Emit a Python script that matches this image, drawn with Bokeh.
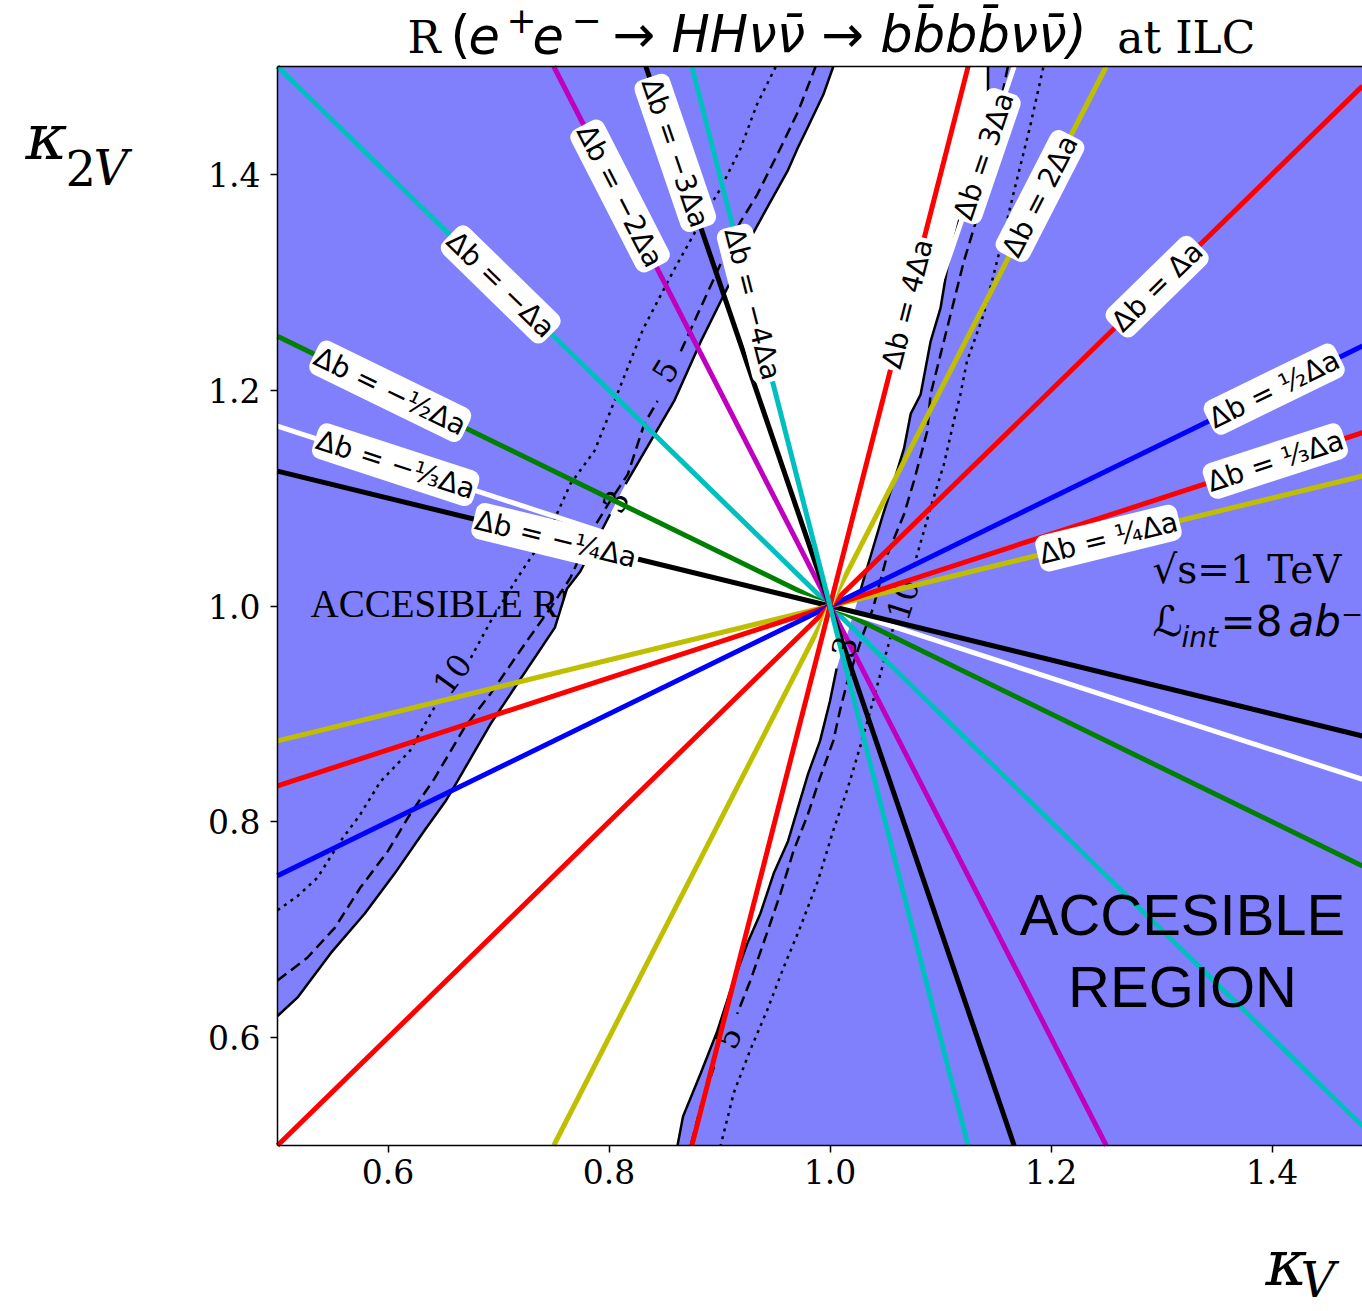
import math
from bokeh.plotting import figure
from bokeh.models import Range1d, FixedTicker, Label, LinearAxis
from bokeh.embed import file_html
from bokeh.resources import INLINE
from bokeh.core.properties import value

nan = float("nan")

# ---------------- data ----------------
x_ticks = [0.6, 0.8, 1.0, 1.2, 1.4]
x_tick_labels = ["0.6", "0.8", "1.0", "1.2", "1.4"]
y_ticks = [0.6, 0.8, 1.0, 1.2, 1.4]
y_tick_labels = ["0.6", "0.8", "1.0", "1.2", "1.4"]

# straight lines  Δb = k Δa  through (κV, κ2V) = (1, 1)
slopes = [-1, -1/2, -1/3, -1/4, 1/4, 1/3, 1/2, 1, 2, 3, 4, -2, -3, -4]
line_colors = ["#00bfbf", "#008000", "#ffffff", "#000000", "#bfbf00", "#ff0000", "#0000ff",
               "#ff0000", "#bfbf00", "#ffffff", "#ff0000", "#bf00bf", "#000000", "#00bfbf"]
line_labels = ["Δb = −Δa", "Δb = −½Δa", "Δb = −⅓Δa", "Δb = −¼Δa", "Δb = ¼Δa", "Δb = ⅓Δa",
               "Δb = ½Δa", "Δb = Δa", "Δb = 2Δa", "Δb = 3Δa", "Δb = 4Δa", "Δb = −2Δa",
               "Δb = −3Δa", "Δb = −4Δa"]
label_kv = [0.702, 0.602, 0.607, 0.752, 1.252, 1.403, 1.402, 1.296, 1.190, 1.139, 1.070,
            0.810, 0.860, 0.930]

# contour R = 3 (solid), left and right branches
r3_left_kv = [0.500, 0.518, 0.548, 0.579, 0.606, 0.633, 0.652, 0.663, 0.693, 0.717, 0.751, 0.762,
              0.774, 0.801, nan, 0.815, 0.859, 0.883, 0.913, 0.928, 0.943, 0.962, 0.971, 0.980,
              0.994, 1.003]
r3_left_k2v = [0.620, 0.637, 0.678, 0.715, 0.752, 0.792, 0.819, 0.838, 0.891, 0.928, 0.980, 1.016,
               1.032, 1.085, nan, 1.113, 1.190, 1.245, 1.307, 1.341, 1.369, 1.404, 1.425, 1.444,
               1.474, 1.500]
r3_right_kv = [1.143, 1.143, 1.115, 1.106, 1.100, 1.091, 1.082, 1.073, 1.067, 1.058, 1.048, 1.039,
               1.030, 1.025, nan, 1.006, 1.000, 0.991, 0.980, 0.962, 0.949, 0.937, 0.925, 0.910,
               0.898, 0.883, 0.867, 0.862]
r3_right_k2v = [1.500, 1.461, 1.350, 1.313, 1.276, 1.245, 1.196, 1.178, 1.146, 1.116, 1.085, 1.054,
                1.023, 1.005, nan, 0.942, 0.912, 0.875, 0.844, 0.782, 0.752, 0.715, 0.687, 0.644,
                0.606, 0.567, 0.527, 0.500]

# contour R = 5 (dashed)
r5_left_kv = [0.500, 0.527, 0.552, 0.575, 0.600, 0.620, 0.642, 0.669, 0.693, 0.726, 0.747, 0.765,
              0.783, 0.799, 0.817, 0.832, 0.844, nan, 0.865, 0.880, 0.901, 0.919, 0.934, 0.955,
              0.971, 0.987]
r5_left_k2v = [0.653, 0.674, 0.702, 0.739, 0.773, 0.807, 0.840, 0.887, 0.919, 0.968, 0.998, 1.026,
               1.067, 1.094, 1.122, 1.169, 1.190, nan, 1.236, 1.270, 1.317, 1.356, 1.381, 1.424,
               1.458, 1.500]
r5_right_kv = [1.161, 1.132, 1.121, 1.112, 1.100, 1.091, 1.088, 1.076, 1.067, 1.052, 1.039, 1.030,
               1.016, 1.009, 1.003, 0.991, 0.980, 0.967, 0.955, 0.943, 0.928, 0.916, nan, 0.895,
               0.883, 0.874]
r5_right_k2v = [1.500, 1.356, 1.319, 1.282, 1.233, 1.196, 1.162, 1.116, 1.085, 1.048, 0.998, 0.974,
                0.931, 0.903, 0.875, 0.841, 0.807, 0.773, 0.733, 0.697, 0.653, 0.622, nan, 0.573,
                0.536, 0.500]

# contour R = 10 (dotted)
r10_left_kv = [0.500, 0.518, 0.536, 0.557, 0.575, 0.593, 0.620, 0.642, nan, 0.675, 0.693, 0.717,
               0.747, 0.765, 0.787, 0.805, 0.831, 0.858, 0.883, 0.901, 0.919, 0.934, 0.951]
r10_left_k2v = [0.718, 0.731, 0.748, 0.782, 0.807, 0.837, 0.866, 0.906, nan, 0.952, 0.986, 1.026,
                1.072, 1.113, 1.144, 1.190, 1.257, 1.310, 1.356, 1.387, 1.424, 1.465, 1.500]
r10_right_kv = [1.193, 1.181, 1.166, 1.154, 1.139, 1.124, 1.118, 1.112, 1.103, 1.091, 1.079, 1.075,
                nan, 1.057, 1.052, 1.039, 1.028, 1.016, 1.003, 0.989, 0.973, 0.958, 0.943, 0.928,
                0.913, 0.901]
r10_right_k2v = [1.499, 1.444, 1.382, 1.331, 1.270, 1.227, 1.196, 1.171, 1.131, 1.091, 1.048, 1.034,
                 nan, 0.979, 0.961, 0.912, 0.872, 0.831, 0.792, 0.745, 0.702, 0.665, 0.625, 0.589,
                 0.549, 0.500]

contour_label_text = ["3", "5", "10", "10", "5"]
contour_label_kv = [0.806, 0.851, 0.658, 1.066, 0.908]
contour_label_k2v = [1.097, 1.218, 0.937, 1.006, 0.600]
contour_label_deg = [63, 58, 54, 72, 66]
centre_label_text = ["3"]
centre_label_kv = [1.013]
centre_label_k2v = [0.962]
centre_label_deg = [75]

# ---------------- layout ----------------
W, H = 1362, 1311
PX_L, PX_T, PX_R, PX_B = 277, 66, 1362, 1145          # plot box edges on the canvas
XB = (0.5, 0.5 + (PX_R - PX_L) * 0.2 / 221.0)          # visible κV extent of the box
YB = (0.5, 1.5)
SX = (PX_R - PX_L) / (XB[1] - XB[0])
SY = (PX_B - PX_T) / (YB[1] - YB[0])
XR = (XB[0] - PX_L / SX, XB[0] + (W - PX_L) / SX)
YR = (YB[1] - (H - PX_T) / SY, YB[1] + PX_T / SY)
BASE_FIX = 0.37     # em offset between requested and drawn alphabetic baseline


def px2x(px):
    return XB[0] + (px - PX_L) / SX


def py2y(py):
    return YB[1] - (py - PX_T) / SY


def base_y(py, size):
    return py2y(py - BASE_FIX * size)


BLUE = "#8080fc"

p = figure(width=W, height=H, x_range=Range1d(*XR), y_range=Range1d(*YR),
           output_backend="svg", toolbar_location=None, title=None,
           min_border_left=0, min_border_right=0, min_border_top=0, min_border_bottom=0)
p.background_fill_color = "white"
p.border_fill_color = "white"
p.outline_line_color = None
p.xgrid.visible = False
p.ygrid.visible = False

for ax, ticks, labs, stand, loc, bnd in ((p.xaxis[0], x_ticks, x_tick_labels, 6, YB[0], XB),
                                         (p.yaxis[0], y_ticks, y_tick_labels, 10, XB[0], YB)):
    ax.fixed_location = loc
    ax.bounds = bnd
    ax.ticker = FixedTicker(ticks=ticks)
    ax.major_label_overrides = {t: l for t, l in zip(ticks, labs)}
    ax.major_label_text_font = "DejaVu Serif"
    ax.major_label_text_font_size = "33px"
    ax.major_label_text_color = "black"
    ax.major_tick_out = 7
    ax.major_tick_in = 0
    ax.minor_tick_line_color = None
    ax.major_tick_line_width = 1.5
    ax.axis_line_width = 1.5
    ax.axis_line_color = "black"
    ax.major_tick_line_color = "black"
    ax.major_label_standoff = stand

# top spine: an axis without ticks or labels
top = LinearAxis(fixed_location=YB[1], bounds=XB, ticker=FixedTicker(ticks=[]),
                 major_tick_line_color=None, minor_tick_line_color=None, major_tick_out=0,
                 major_tick_in=0, axis_line_width=1.5, axis_line_color="black")
p.add_layout(top, "above")

# accessible (R >= 3) background of the plot box
p.quad(left=[XB[0]], right=[XB[1]], bottom=[YB[0]], top=[YB[1]], fill_color=BLUE, line_color=None)

# left "ACCESIBLE REGION" (partly hidden by the non-accessible white band)
p.text(x=[px2x(310)], y=[base_y(617, 39)], text=["ACCESIBLE REGION"],
       text_font=value("Liberation Serif"), text_font_size="39px", text_baseline="alphabetic",
       text_align="left", text_color="black")


def clean(a):
    return [v for v in a if v == v]


# white (R < 3) band
band_x = clean(r3_left_kv) + clean(r3_right_kv) + [XB[0]]
band_y = clean(r3_left_k2v) + clean(r3_right_k2v) + [YB[0]]
p.patch(band_x, band_y, fill_color="white", line_color=None)

# contour lines
for xs, ys, dash in ((r3_left_kv, r3_left_k2v, "solid"), (r3_right_kv, r3_right_k2v, "solid"),
                     (r5_left_kv, r5_left_k2v, "11 6"), (r5_right_kv, r5_right_k2v, "11 6"),
                     (r10_left_kv, r10_left_k2v, "3 5"), (r10_right_kv, r10_right_k2v, "3 5")):
    p.line(xs, ys, line_color="black", line_width=2.5, line_dash=dash)

p.text(x=contour_label_kv, y=contour_label_k2v, text=contour_label_text,
       angle=[math.radians(a) for a in contour_label_deg],
       text_font=value("DejaVu Serif"), text_font_size="32px", text_align="center",
       text_baseline="middle", text_color="black")


# straight lines, clipped to the plot box
def clipped(k):
    xa, xb = 1 + (YB[0] - 1) / k, 1 + (YB[1] - 1) / k
    lo, hi = max(XB[0], min(xa, xb)), min(XB[1], max(xa, xb))
    return [lo, hi], [1 + k * (lo - 1), 1 + k * (hi - 1)]


for k, c in zip(slopes, line_colors):
    xs, ys = clipped(k)
    p.line(xs, ys, line_color=c, line_width=5)

p.text(x=centre_label_kv, y=centre_label_k2v, text=centre_label_text,
       angle=[math.radians(a) for a in centre_label_deg],
       text_font=value("DejaVu Serif"), text_font_size="32px", text_align="center",
       text_baseline="middle", text_color="black")

# line labels
lab_y = [1 + k * (x - 1) for k, x in zip(slopes, label_kv)]
lab_ang = [math.atan(k * SY / SX) for k in slopes]
p.text(x=label_kv, y=lab_y, text=line_labels, angle=lab_ang,
       text_font=value("DejaVu Sans"), text_font_size="28px", text_align="center",
       text_baseline="middle", text_color="black",
       background_fill_color="white", padding=2, border_radius=9)

# right "ACCESIBLE REGION"
p.text(x=[px2x(1182), px2x(1182)], y=[base_y(935, 58), base_y(1007, 58)],
       text=["ACCESIBLE", "REGION"],
       text_font=value("Liberation Sans"), text_font_size="58px", text_align="center",
       text_baseline="alphabetic", text_color="black")


def lab(txt, px, py, font, size, style="normal", align="left"):
    p.add_layout(Label(x=px2x(px), y=base_y(py, size), text=txt, text_font=font,
                       text_font_size=f"{size}px", text_font_style=style, text_align=align,
                       text_baseline="alphabetic", text_color="black"))


# energy / luminosity
lab("√s=1 TeV", 1152, 583, "DejaVu Serif", 39)
lab("ℒ", 1152, 637, "DejaVu Sans", 42, "italic")
lab("int", 1181, 647, "DejaVu Sans", 28, "italic")
lab("=8", 1220, 637, "DejaVu Sans", 42)
lab("ab⁻¹", 1288, 637, "DejaVu Sans", 42, "italic")

# title
lab("R", 407, 53, "DejaVu Serif", 44)
lab("(", 450, 53, "DejaVu Sans", 51)
lab("e", 468, 53, "DejaVu Sans", 51, "italic")
lab("+", 506, 33, "DejaVu Sans", 36)
lab("e", 532, 53, "DejaVu Sans", 51, "italic")
lab("−", 571, 33, "DejaVu Sans", 36)
lab("→ HHνν\u0304 → bb\u0304bb\u0304νν\u0304)", 612, 53, "DejaVu Sans", 51, "italic")
lab("at ILC", 1255, 53, "DejaVu Serif", 44, align="right")

# axis titles
lab("κ", 25, 160, "DejaVu Serif", 64, "italic")
lab("2", 65, 185, "DejaVu Serif", 48)
lab("V", 93, 185, "DejaVu Serif", 48, "italic")
lab("κ", 1265, 1286, "DejaVu Serif", 64, "italic")
lab("V", 1300, 1297, "DejaVu Serif", 48, "italic")

open("out.html", "w").write(file_html(p, INLINE))
